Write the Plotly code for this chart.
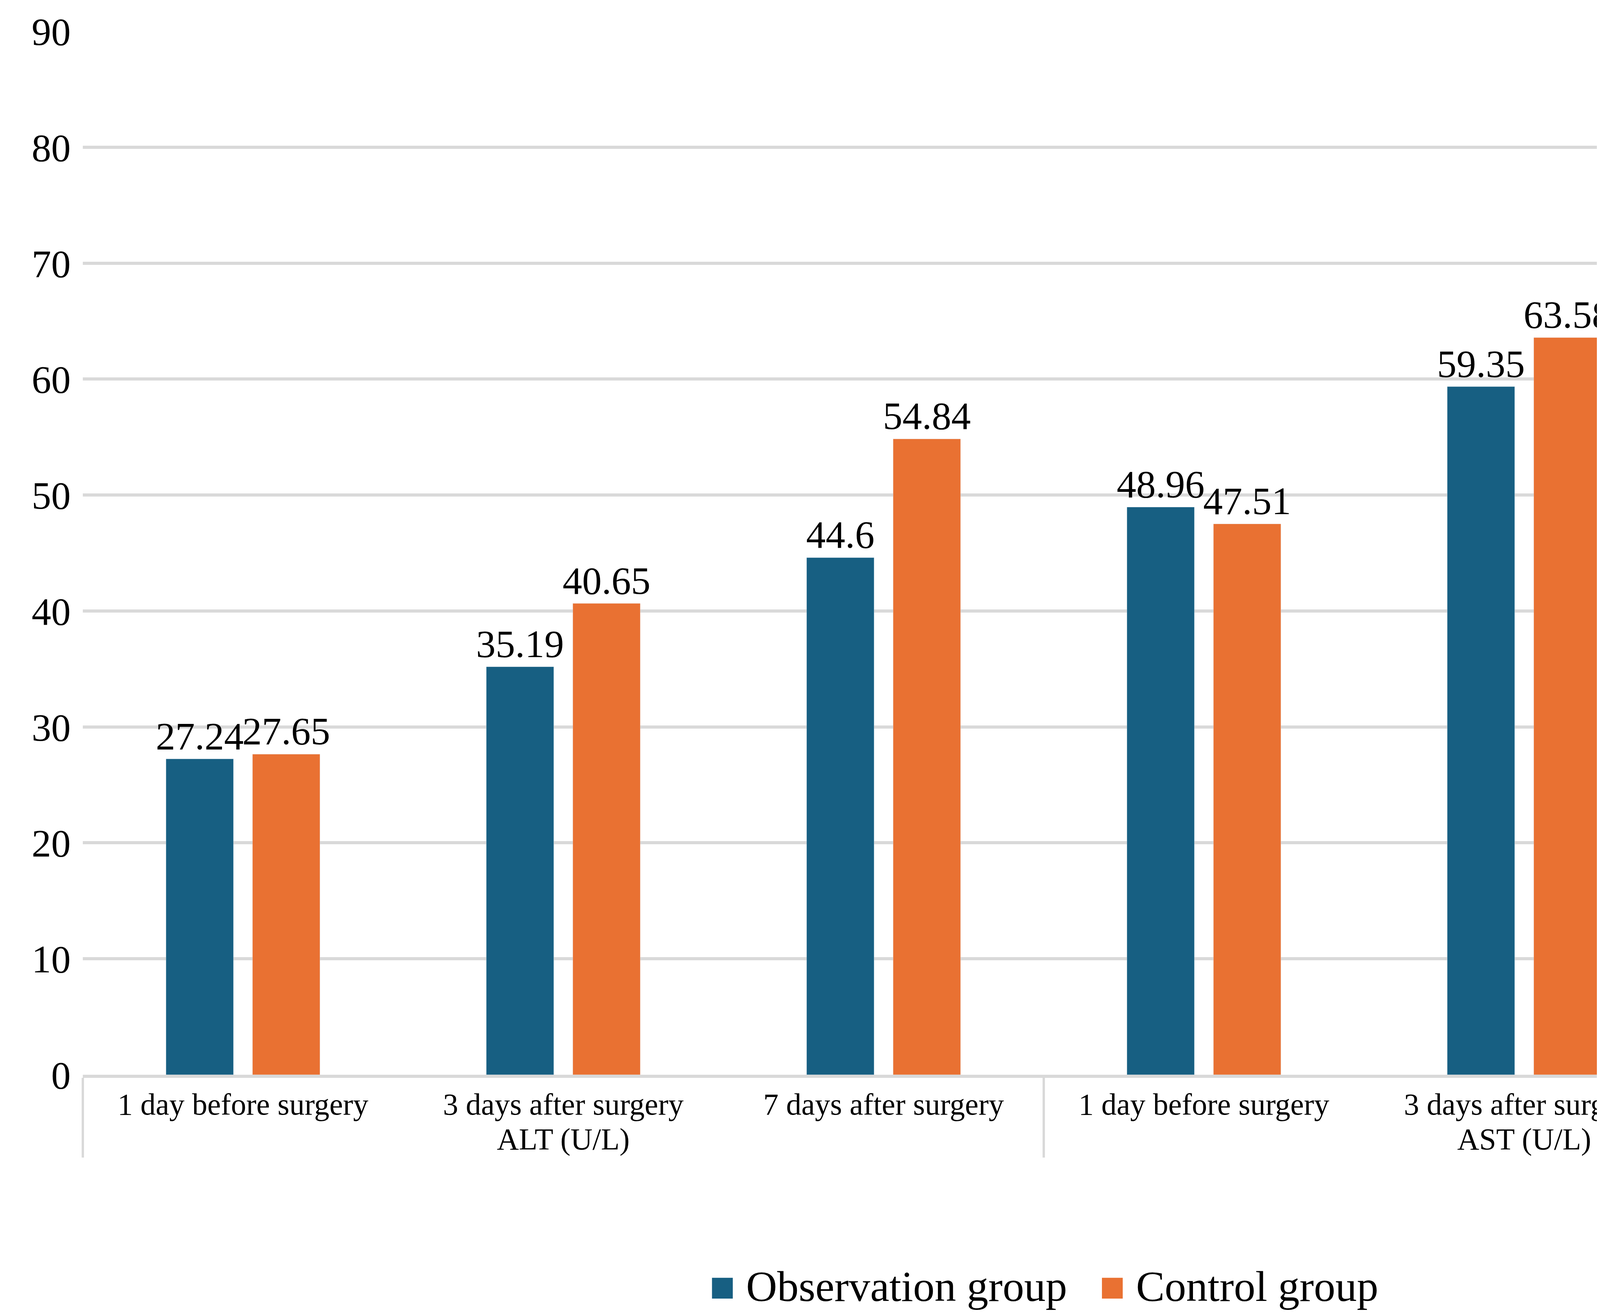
import plotly.graph_objects as go

groups = ["ALT (U/L)"] * 3 + ["AST (U/L)"] * 3
times = ["1 day before surgery", "3 days after surgery", "7 days after surgery"] * 2
observation = [27.24, 35.19, 44.6, 48.96, 59.35, 68.56]
control = [27.65, 40.65, 54.84, 47.51, 63.58, 78.65]
series_names = ["Observation group", "Control group"]
series_colors = ["#175f82", "#e97132"]

FONT = "Liberation Serif"

fig = go.Figure()
for name, vals, color in zip(series_names, [observation, control], series_colors):
    fig.add_trace(go.Bar(
        x=[groups, times], y=vals, name=name,
        marker_color=color, text=[str(v) for v in vals],
        textposition="outside", cliponaxis=False, constraintext="none",
        textfont=dict(size=100, color="#000000", family=FONT),
        showlegend=False,
    ))

# legend drawn as text so the colour squares can be large
fig.add_annotation(
    x=0.5, y=-0.203, xref="paper", yref="paper", showarrow=False,
    xanchor="center", yanchor="middle",
    text=(f"<span style='color:{series_colors[0]}'>■</span> {series_names[0]}"
          f"   <span style='color:{series_colors[1]}'>■</span> {series_names[1]}"),
    font=dict(size=110, family=FONT, color="#000000"),
)

fig.update_layout(
    width=5137, height=3366, autosize=False,
    barmode="group", bargap=0.46, bargroupgap=0.22,
    plot_bgcolor="white", paper_bgcolor="white",
    font=dict(family=FONT, color="#000000"),
    margin=dict(l=204, r=13, t=72, b=623),
)
fig.update_yaxes(range=[0, 90], dtick=10, showgrid=True, gridcolor="#d9d9d9", gridwidth=8,
                 zeroline=False, showline=False, tickfont=dict(size=100, family=FONT),
                 ticks="", ticklabelstandoff=30)
fig.update_xaxes(showline=True, linecolor="#d9d9d9", linewidth=8, showdividers=True,
                 dividercolor="#d9d9d9", dividerwidth=6,
                 tickfont=dict(size=78, family=FONT))

fig.write_html("out.html", default_width="5137px", default_height="3366px")
